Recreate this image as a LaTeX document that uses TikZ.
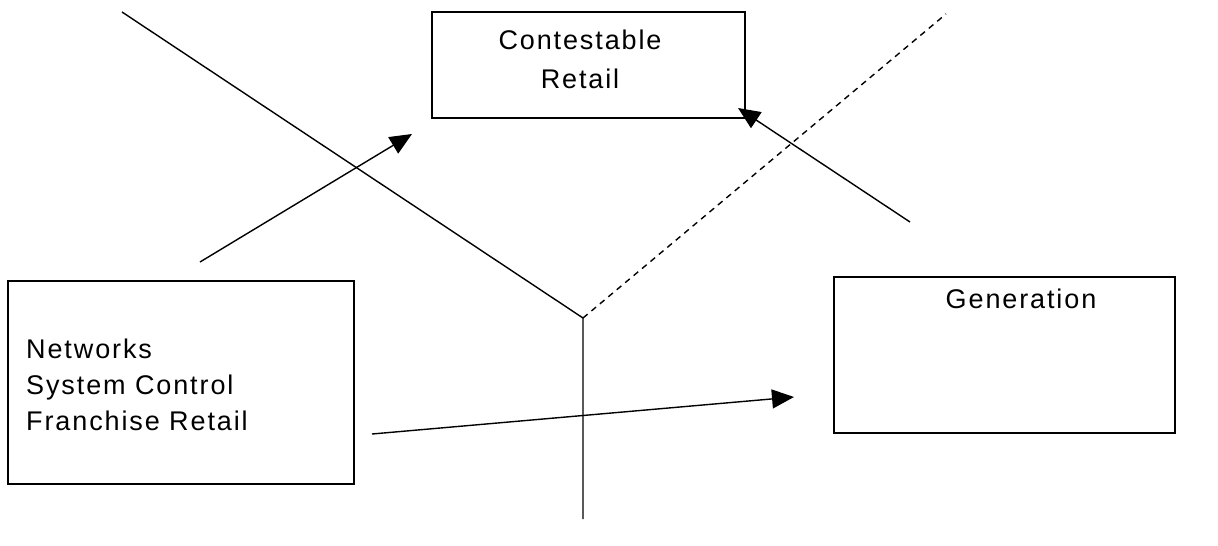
\documentclass[tikz,border=0pt]{standalone}
\usepackage{fontspec}
\setmainfont{Liberation Sans}[LetterSpace=7]
\usetikzlibrary{arrows.meta}
\begin{document}
\begin{tikzpicture}[x=1pt,y=-1pt,
  box/.style={draw,line width=1.4pt,inner sep=0pt},
  lbl/.style={font=\fontsize{27}{31}\selectfont,inner sep=0pt,anchor=base},
  lbll/.style={lbl,anchor=base west},
  ln/.style={line width=1.4pt},
  arr/.style={line width=1.4pt,-{Triangle[length=22pt,width=19pt]}},
  dsh/.style={line width=1.4pt,dash pattern=on 6pt off 5pt}]
\useasboundingbox (0,0) rectangle (1218,546);
% boxes
\node[box,minimum width=313pt,minimum height=106pt] (cr) at (588.5,65) {};
\node[box,minimum width=341pt,minimum height=156pt] (gen) at (1004.5,355) {};
\node[box,minimum width=346pt,minimum height=203pt] (net) at (181,382.5) {};
% texts
\node[lbl] (t1) at (580,49) {Contestable};
\node[lbl] (t2) at (580,88) {Retail};
\node[lbl] (t3) at (1021,308) {Generation};
\node[lbll] (t4) at (26,358) {Networks};
\node[lbll] (t5) at (26,394) {System Control};
\node[lbll] (t6) at (26,430) {Franchise Retail};
% lines
\coordinate (j) at (583,318);
\coordinate (tl) at (122,12);
\coordinate (tr) at (946,14);
\coordinate (bt) at (583,519);
\draw[ln] (tl) -- (j) -- (bt);
\draw[dsh] (j) -- (tr);
% arrows
\coordinate (a1s) at (200,262);
\coordinate (a2s) at (910,222);
\coordinate (a3s) at (372,434);
\draw[arr] (a1s) -- (412,134);
\draw[arr] (a2s) -- (738,108);
\draw[arr] (a3s) -- (794,397);
\end{tikzpicture}
\end{document}
